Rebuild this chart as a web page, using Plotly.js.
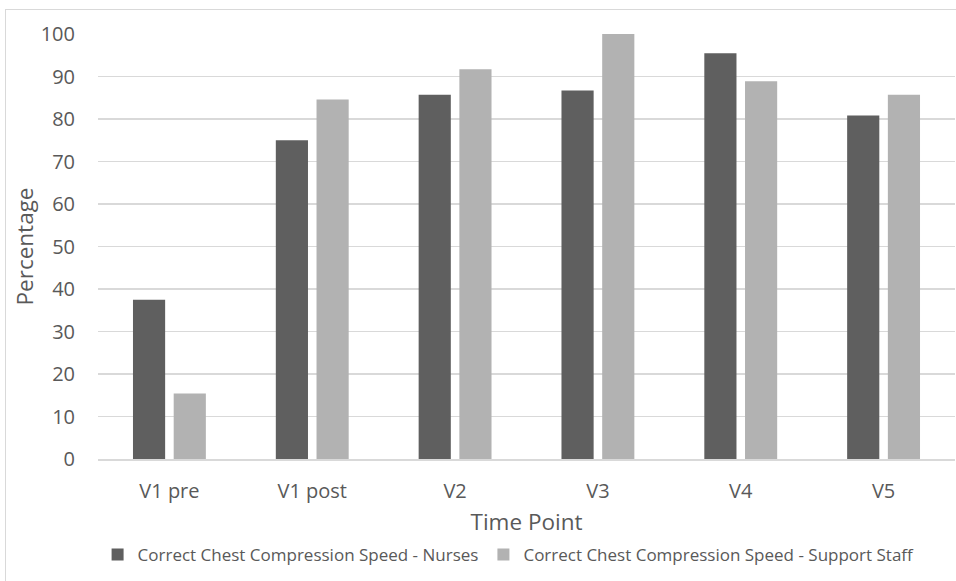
<!DOCTYPE html>
<html>
<head>
<meta charset="utf-8">
<script src="https://cdn.plot.ly/plotly-3.0.1.min.js"></script>
<style>
  html, body { margin: 0; padding: 0; background: #fff; overflow: hidden; }
  #frame { position: absolute; left: 5px; top: 9px; width: 1100px; height: 700px; border: 1px solid #d9d9d9; box-sizing: border-box; }
  #chart { position: absolute; left: 0; top: 0; width: 956px; height: 581px; }
</style>
</head>
<body>
<div id="frame"></div>
<div id="chart"></div>
<script>
const categories = ["V1 pre", "V1 post", "V2", "V3", "V4", "V5"];
const nurses = [37.5, 75.0, 85.7, 86.7, 95.5, 80.8];
const supportStaff = [15.4, 84.6, 91.7, 100.0, 88.9, 85.7];
const seriesNames = ["Correct Chest Compression Speed - Nurses", "Correct Chest Compression Speed - Support Staff"];
const yTicks = [0, 10, 20, 30, 40, 50, 60, 70, 80, 90, 100];

const fontFamily = "'Open Sans', 'Liberation Sans', sans-serif";
const textColor = "#595959";

const data = [
  { type: "bar", name: seriesNames[0], x: categories, y: nurses,
    marker: { color: "#5f5f5f", line: { width: 0 } } },
  { type: "bar", name: seriesNames[1], x: categories, y: supportStaff,
    marker: { color: "#b2b2b2", line: { width: 0 } } }
];

const layout = {
  width: 956, height: 581,
  paper_bgcolor: "rgba(0,0,0,0)", plot_bgcolor: "rgba(0,0,0,0)",
  margin: { l: 98, r: 1.1, t: 34, b: 121.7, pad: 0 },
  barmode: "group", bargap: 0.43, bargroupgap: 0.21,
  font: { family: fontFamily, color: textColor, size: 17 },
  showlegend: true,
  legend: { orientation: "h", x: 0.532, xref: "container", xanchor: "center", y: 0.0448, yref: "container", yanchor: "middle",
            font: { size: 17, color: textColor }, itemwidth: 30, traceorder: "normal" },
  xaxis: {
    type: "category", showgrid: false, zeroline: false,
    showline: true, linecolor: "#d9d9d9", linewidth: 1.5,
    ticks: "outside", ticklen: 13, tickcolor: "rgba(0,0,0,0)",
    tickfont: { size: 20, color: textColor },
    title: { text: "Time Point", font: { size: 22.5, color: textColor }, standoff: 12 },
    automargin: false
  },
  yaxis: {
    range: [0, 100], tickvals: yTicks, showgrid: true, gridcolor: "#d9d9d9", gridwidth: 1.5,
    zeroline: false, showline: false,
    ticks: "outside", ticklen: 18, tickcolor: "rgba(0,0,0,0)",
    tickfont: { size: 20, color: textColor },
    title: { text: "Percentage", font: { size: 22.5, color: textColor }, standoff: 0 },
    automargin: false
  }
};

Plotly.newPlot("chart", data, layout, { staticPlot: true, displayModeBar: false });
</script>
</body>
</html>
